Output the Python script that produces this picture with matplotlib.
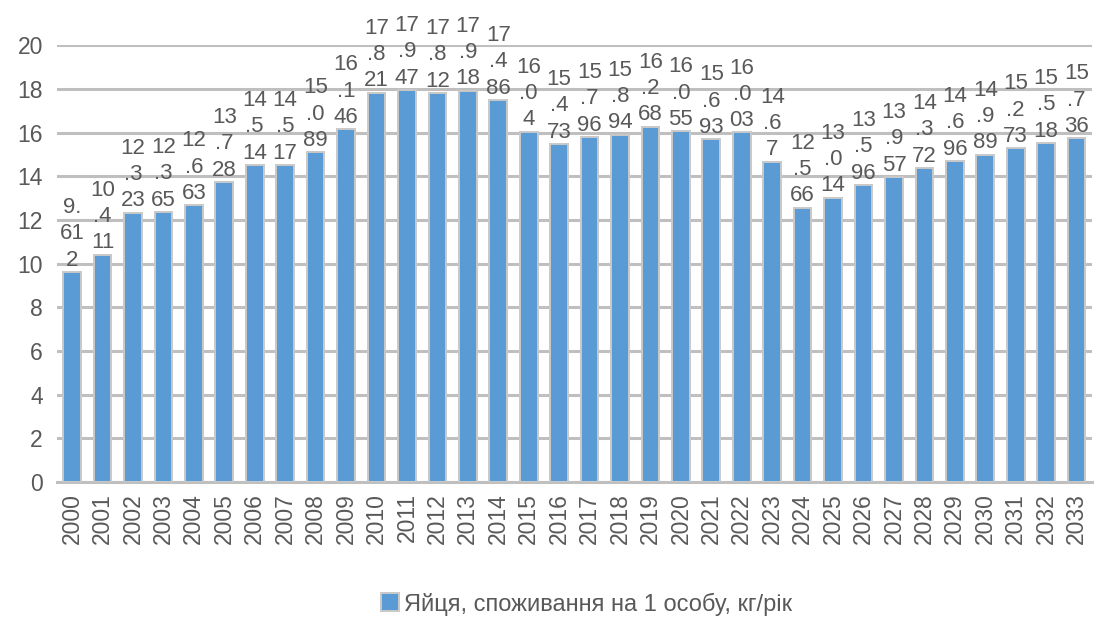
import matplotlib
matplotlib.use("Agg")
import matplotlib.pyplot as plt
import numpy as np

years = [str(y) for y in range(2000, 2034)]
values = [9.612, 10.411, 12.323, 12.365, 12.663, 13.728, 14.514, 14.517, 15.089, 16.146,
          17.821, 17.947, 17.812, 17.918, 17.486, 16.04, 15.473, 15.796, 15.894, 16.268,
          16.055, 15.693, 16.003, 14.67, 12.566, 13.014, 13.596, 13.957, 14.372, 14.696,
          14.989, 15.273, 15.518, 15.736]
series_name = "Яйця, споживання на 1 особу, кг/рік"
yticks = list(range(0, 21, 2))

plt.rcParams['font.family'] = ['Liberation Sans', 'DejaVu Sans']
text_color = '#595959'
bar_color = '#5b9bd5'
grid_color = '#bfbfbf'

fig = plt.figure(figsize=(10.94, 6.17), dpi=100)
ax = fig.add_axes([0.052, 0.2188, 0.946, 0.708])

x = np.arange(len(years))
bars = ax.bar(x, values, width=0.58, color=bar_color, edgecolor='#c9c9c9',
              linewidth=1.4, zorder=3, label=series_name)

ax.set_xlim(-0.5, len(years) - 0.5)
ax.set_ylim(0, 20)
ax.set_yticks(yticks)
ax.set_yticklabels([str(t) for t in yticks], fontsize=16.5, color=text_color)
ax.set_xticks(x)
ax.set_xticklabels(years, rotation=90, fontsize=16.5, color=text_color)
ax.tick_params(axis='both', length=0)
ax.tick_params(axis='y', pad=10)
ax.tick_params(axis='x', pad=8)

ax.yaxis.grid(True, color=grid_color, linewidth=2.2, zorder=0)
for side in ['top', 'right', 'left']:
    ax.spines[side].set_visible(False)
ax.spines['bottom'].set_color(grid_color)
ax.spines['bottom'].set_linewidth(2.2)


def wrap_label(v):
    s = str(v)
    return "\n".join(s[i:i + 2] for i in range(0, len(s), 2))


for xi, v in zip(x, values):
    ax.annotate(wrap_label(v), (xi, v), xytext=(0, 1), textcoords='offset points',
                ha='center', va='bottom', fontsize=16, color=text_color,
                linespacing=1.33, annotation_clip=False, zorder=4)

leg = fig.legend(handles=[bars], labels=[series_name], loc='center',
                 bbox_to_anchor=(0.536, 0.021), frameon=False, fontsize=17,
                 handlelength=0.8, handleheight=0.8, handletextpad=0.2,
                 labelcolor=text_color)

fig.savefig("out.png", dpi=100)
